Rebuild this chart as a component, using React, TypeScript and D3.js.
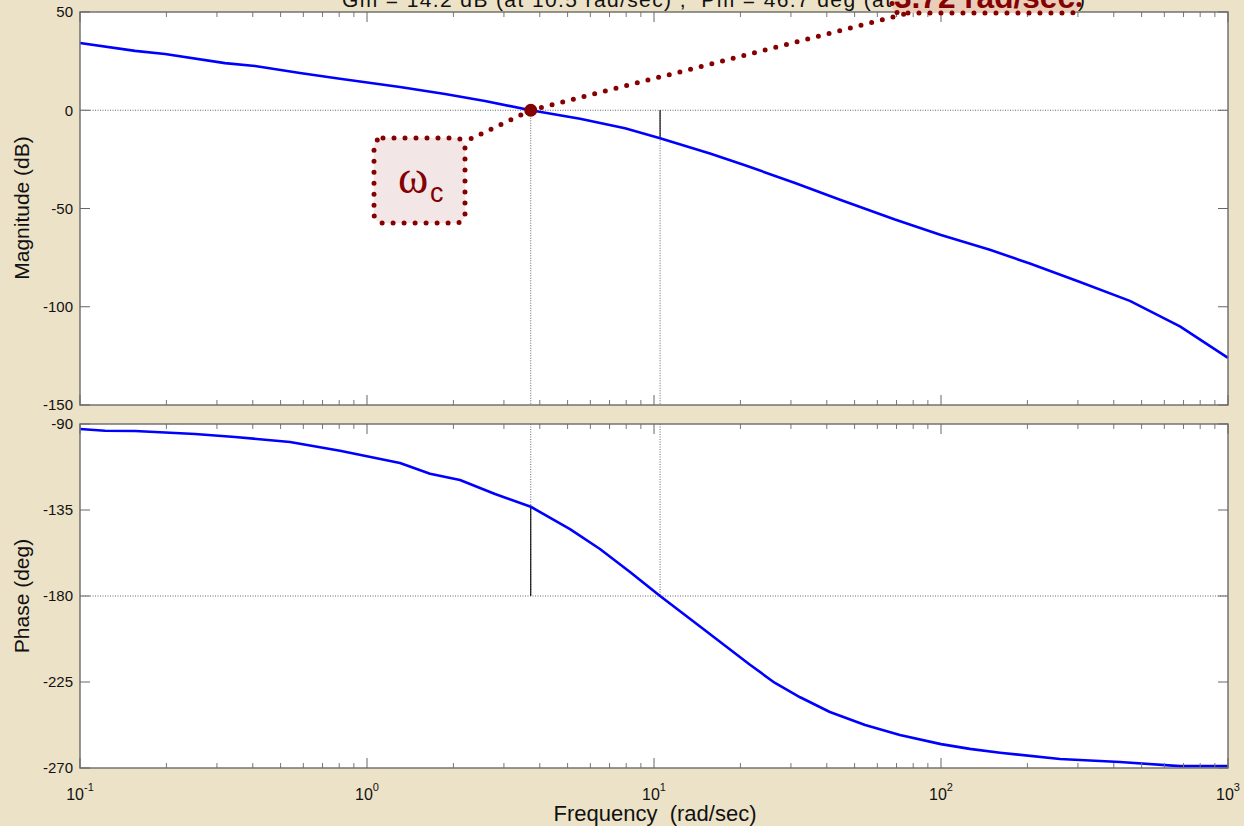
import React from 'react';
import * as d3 from 'd3';

// magnitude response
const magFreq = [0.1, 0.1555, 0.1978, 0.32, 0.4072, 0.5841, 0.805, 1.303, 1.87, 2.577, 3.72, 5.524, 7.925, 10.5, 15.67, 20.75, 31.0, 44.5, 69.1, 100, 148, 204, 305, 455, 680, 1000];
const magDb = [34.2, 30.2, 28.6, 24, 22.5, 19, 16, 11.8, 8.3, 4.7, 0, -4.3, -9.2, -14.2, -22, -28, -37, -45.5, -55.6, -63.5, -71, -78, -87.4, -97, -110, -126];

// phase response
const phaseFreq = [0.1, 0.1222, 0.1555, 0.2517, 0.3468, 0.5392, 0.805, 1.303, 1.658, 2.109, 2.793, 3.72, 5.097, 6.482, 8.249, 10.5, 14.47, 21.6, 26.4, 32.3, 41.0, 54.4, 71.9, 100, 126, 160.6, 259.8, 420.5, 680, 1000];
const phaseDeg = [-92.6, -93.5, -93.7, -95.2, -96.8, -99.4, -104, -110.4, -116, -119.3, -126.6, -133.3, -145, -155.4, -167.4, -180, -196, -216, -225.5, -233, -240.7, -247.5, -252.7, -257.5, -260, -262, -265.3, -266.9, -269, -269];

const decadeExps = [-1, 0, 1, 2, 3];
const magTicks = [-150, -100, -50, 0, 50];
const phaseTicks = [-270, -225, -180, -135, -90];

const gmDb = -14.2;
const wcg = 10.5;
const pmPhase = -133.3;
const wcp = 3.72;

const W = 1244;
const H = 826;
const font = 'Liberation Sans, Arial, sans-serif';
const red = '#850000';

const x = d3.scaleLog().domain([0.1, 1000]).range([80, 1228]);
const yMag = d3.scaleLinear().domain([-150, 50]).range([405, 12]);
const yPh = d3.scaleLinear().domain([-270, -90]).range([768, 424]);

const minorTicks: number[] = [];
decadeExps.slice(0, -1).forEach(e => {
  for (let k = 2; k <= 9; k++) minorTicks.push(k * Math.pow(10, e));
});

const Panel = ({ y, ticks }: { y: d3.ScaleLinear<number, number>; ticks: number[] }) => {
  const [y0, y1] = y.range();
  const top = Math.min(y0, y1);
  const bot = Math.max(y0, y1);
  const [x0, x1] = x.range();
  return (
    <g>
      {/* x ticks, bottom and top */}
      {minorTicks.map((f, i) => (
        <g key={'m' + i} stroke="#777" strokeWidth={1}>
          <line x1={x(f)} x2={x(f)} y1={bot} y2={bot - 5} />
          <line x1={x(f)} x2={x(f)} y1={top} y2={top + 5} />
        </g>
      ))}
      {decadeExps.map(e => (
        <g key={'M' + e} stroke="#666" strokeWidth={1}>
          <line x1={x(Math.pow(10, e))} x2={x(Math.pow(10, e))} y1={bot} y2={bot - 10} />
          <line x1={x(Math.pow(10, e))} x2={x(Math.pow(10, e))} y1={top} y2={top + 10} />
        </g>
      ))}
      {ticks.map(t => (
        <g key={t}>
          <line x1={x0} x2={x0 + 10} y1={y(t)} y2={y(t)} stroke="#666" />
          <line x1={x1} x2={x1 - 10} y1={y(t)} y2={y(t)} stroke="#666" />
          <text x={73} y={y(t)} dy="0.36em" textAnchor="end" fontSize={15} fontFamily={font} fill="#111">
            {t}
          </text>
        </g>
      ))}
      <rect x={x0} y={top} width={x1 - x0} height={bot - top} fill="none" stroke="#6a6a6a" strokeWidth={1.4} />
    </g>
  );
};

const App: React.FC = () => {
  const magLine = d3.line<number>()
    .x((_, i) => x(magFreq[i]))
    .y(d => yMag(d))(magDb) as string;
  const phLine = d3.line<number>()
    .x((_, i) => x(phaseFreq[i]))
    .y(d => yPh(d))(phaseDeg) as string;

  const [x0, x1] = x.range();
  const dotted = { stroke: '#555', strokeWidth: 0.9, strokeDasharray: '1 1.5' };
  const redDots = { stroke: red, strokeWidth: 5, strokeLinecap: 'round' as const, strokeDasharray: '0 11', fill: 'none' };

  return (
    <svg width={W} height={H} style={{ position: 'absolute', left: 0, top: 0 }}>
      <rect width={W} height={H} fill="#ece2c7" />

      {/* plot areas */}
      <rect x={x0} y={12} width={x1 - x0} height={393} fill="#fff" />
      <rect x={x0} y={424} width={x1 - x0} height={344} fill="#fff" />

      {/* margin guide lines */}
      <line x1={x0} x2={x1} y1={yMag(0)} y2={yMag(0)} {...dotted} />
      <line x1={x(wcp)} x2={x(wcp)} y1={yMag(0)} y2={405} {...dotted} />
      <line x1={x(wcg)} x2={x(wcg)} y1={yMag(0)} y2={405} {...dotted} />
      <line x1={x(wcg)} x2={x(wcg)} y1={yMag(0)} y2={yMag(gmDb)} stroke="#000" strokeWidth={1.1} />

      <line x1={x0} x2={x1} y1={yPh(-180)} y2={yPh(-180)} {...dotted} />
      <line x1={x(wcp)} x2={x(wcp)} y1={424} y2={yPh(-180)} {...dotted} />
      <line x1={x(wcg)} x2={x(wcg)} y1={424} y2={yPh(-180)} {...dotted} />
      <line x1={x(wcp)} x2={x(wcp)} y1={yPh(pmPhase)} y2={yPh(-180)} stroke="#000" strokeWidth={1.1} />

      <path d={magLine} fill="none" stroke="#0000ff" strokeWidth={2.6} strokeLinejoin="round" />
      <path d={phLine} fill="none" stroke="#0000ff" strokeWidth={2.6} strokeLinejoin="round" />

      <Panel y={yMag} ticks={magTicks} />
      <Panel y={yPh} ticks={phaseTicks} />

      {/* x tick labels */}
      {decadeExps.map(e => (
        <text key={e} x={x(Math.pow(10, e))} y={800} textAnchor="middle" fontFamily={font} fill="#111">
          <tspan fontSize={16}>10</tspan>
          <tspan fontSize={11} dy={-9}>{e}</tspan>
        </text>
      ))}

      <text x={655} y={821} textAnchor="middle" fontSize={22} fontFamily={font} fill="#111" style={{ whiteSpace: 'pre' }}>
        {'Frequency  (rad/sec)'}
      </text>
      <text transform="translate(29,208) rotate(-90)" textAnchor="middle" fontSize={21} fontFamily={font} fill="#111">
        Magnitude (dB)
      </text>
      <text transform="translate(29,596) rotate(-90)" textAnchor="middle" fontSize={21} fontFamily={font} fill="#111">
        Phase (deg)
      </text>

      {/* title with highlighted crossover */}
      <rect x={892} y={-40} width={187} height={53} rx={8} fill="#e9cdb9" />
      <rect x={892} y={-40} width={187} height={53} rx={8} {...redDots} />
      <text x={342} y={7} fontSize={21} fontFamily={font} fill="#111" textLength={549} lengthAdjust="spacing" style={{ whiteSpace: 'pre' }}>
        {'Gm = 14.2 dB (at 10.5 rad/sec) ,  Pm = 46.7 deg (at'}
      </text>
      <text x={894} y={8} fontSize={31} fontWeight="bold" fontFamily={font} fill={red} textLength={181} lengthAdjust="spacingAndGlyphs">
        3.72 rad/sec
      </text>
      <text x={1078} y={7} fontSize={21} fontFamily={font} fill="#111">)</text>

      {/* annotation leaders */}
      <path d={`M ${x(wcp)} ${yMag(0)} L 905 14`} {...redDots} />
      <path d={`M ${x(wcp)} ${yMag(0)} L 464 142`} {...redDots} />
      <circle cx={x(wcp)} cy={yMag(0)} r={6.5} fill={red} />

      <rect x={374} y={138} width={91} height={85} rx={9} fill="#f3e6e6" />
      <rect x={374} y={138} width={91} height={85} rx={9} {...redDots} />
      <text x={398} y={193} fontSize={46} fontFamily="Liberation Serif, Times New Roman, serif" fill={red}>ω</text>
      <text x={430} y={202} fontSize={27} fontFamily={font} fill={red}>c</text>
    </svg>
  );
};

export default App;
